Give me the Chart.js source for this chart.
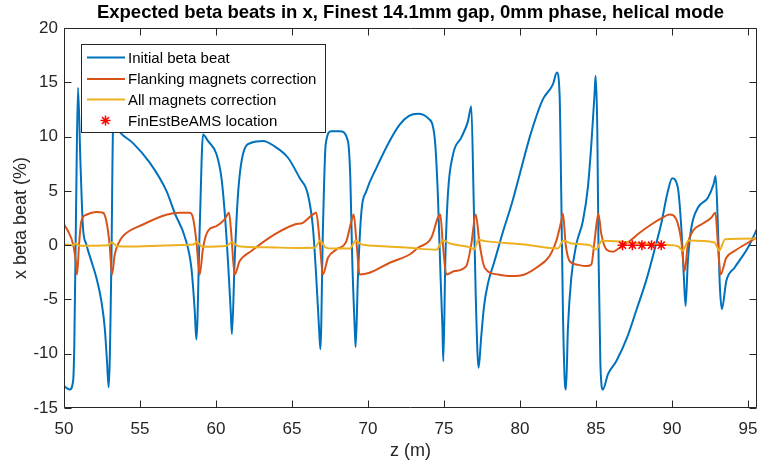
<!DOCTYPE html>
<html lang="en">
<head>
<meta charset="utf-8">
<title>Expected beta beats in x</title>
<script src="https://cdn.jsdelivr.net/npm/chart.js"></script>
<style>
  body { margin: 0; background: #fff; }
</style>
</head>
<body>
<canvas id="chart" width="758" height="466"></canvas>
<script>
// z positions (m) and beta beat (%)
var initialZ = [50.0, 50.37, 50.6, 50.68, 50.8, 50.92, 51.08, 51.25, 51.47, 51.8, 52.13, 52.46, 52.68, 52.83, 52.94,
  53.12, 53.23, 53.35, 53.55, 53.75, 54.54, 55.64, 56.74, 57.3, 57.94, 58.38, 58.6, 58.71, 58.93, 59.15,
  59.47, 60.03, 60.36, 60.57, 60.79, 60.97, 61.05, 61.23, 61.45, 61.78, 62.33, 63.1, 63.86, 64.74, 65.5,
  66.05, 66.38, 66.6, 66.78, 66.87, 67.04, 67.22, 67.59, 68.14, 68.68, 68.84, 68.97, 69.13, 69.19, 69.34,
  69.57, 69.9, 70.55, 71.43, 72.09, 72.7, 73.29, 73.95, 74.39, 74.6, 74.78, 74.9, 74.96, 75.09, 75.26,
  75.6, 76.14, 76.58, 76.8, 76.95, 77.09, 77.28, 77.45, 77.65, 77.9, 78.3, 78.9, 79.5, 80.0, 80.7,
  81.5, 82.17, 82.43, 82.61, 82.72, 82.83, 82.94, 83.03, 83.16, 83.38, 83.71, 84.14, 84.47, 84.7, 84.91,
  84.98, 85.09, 85.18, 85.29, 85.46, 85.79, 86.34, 87.08, 87.66, 88.32, 88.9, 89.3, 89.74, 90.02, 90.39,
  90.62, 90.79, 90.9, 91.05, 91.28, 91.71, 92.37, 92.74, 92.88, 93.03, 93.16, 93.29, 93.58, 94.12, 95.0,
  95.64];
var initialBeat = [-12.98, -13.3, -12.5, -9, 4, 14.5, 7.7, 1.6, 0.07, -1.47, -3.0, -5.15, -7.6, -10.7, -13.1,
  -1.47, 10.8, 11.2, 10.7, 10.3, 9.4, 7.6, 5.0, 2.9, 0.8, -2.08, -6.0, -8.7, 1.6, 10.2,
  9.6, 8.4, 6.2, 3.1, -1.47, -6.07, -8.2, -1.4, 4.7, 8.4, 9.43, 9.6, 9.1, 8.05, 6.2,
  4.67, 1.6, -3.0, -7.6, -9.6, 1.6, 9.3, 10.5, 10.5, 9.6, 6.2, -1.47, -7.6, -9.4, -3.0,
  3.1, 5.0, 7.1, 9.6, 11.1, 11.9, 12.1, 11.7, 9.9, 4.67, -3.0, -7.6, -10.7, -1.47, 4.67,
  8.36, 9.9, 11.4, 12.8, 4.67, -4.5, -11.3, -8.5, -5.5, -3.5, -1.6, 1.3, 4.0, 6.6, 10.2,
  13.4, 14.8, 15.9, 13.9, 4.67, -6.07, -12.2, -13.3, -7.6, -3.0, 0.07, 2.2, 5.3, 9.3, 13.9,
  15.6, 10.8, -1.47, -10.7, -13.3, -11.9, -10.7, -8.4, -6.0, -3.2, -0.2, 2.0, 5.0, 6.15, 5.3,
  1.6, -3.0, -5.6, -1.47, 1.6, 3.44, 4.37, 5.6, 6.36, 1.6, -3.9, -5.9, -3.3, -2.08, -0.24,
  1.6];

var flankZ = [50.0, 50.26, 50.6, 50.8, 50.86, 50.99, 51.14, 51.47, 52.13, 52.57, 52.79, 53.0, 53.16, 53.34, 53.55,
  53.88, 55.2, 56.74, 57.6, 58.27, 58.49, 58.71, 58.93, 59.15, 59.47, 60.03, 60.57, 60.86, 61.01, 61.23,
  61.56, 62.33, 63.86, 65.18, 65.72, 66.38, 66.6, 66.82, 67.04, 67.37, 67.92, 68.58, 68.91, 69.06, 69.24,
  69.45, 70.11, 71.43, 72.74, 73.29, 74.17, 74.6, 74.76, 74.93, 75.16, 75.7, 76.47, 76.8, 77.09, 77.35,
  77.68, 78.55, 79.43, 80.3, 81.08, 81.95, 82.39, 82.72, 82.83, 83.01, 83.27, 83.71, 84.37, 84.7, 84.91,
  85.16, 85.36, 85.69, 86.12, 86.56, 87.22, 87.88, 88.64, 89.3, 89.85, 90.29, 90.62, 90.84, 91.05, 91.38,
  91.93, 92.59, 92.86, 93.03, 93.2, 93.58, 94.12, 95.0, 95.64];
var flankBeat = [1.9, 1.3, 0.07, -1.8, -2.7, 0.07, 2.2, 2.8, 3.05, 2.98, 2.2, 0.07, -2.7, -0.86, 0.07,
  0.83, 1.9, 2.8, 2.98, 2.98, 2.5, 0.38, -2.7, -0.24, 1.3, 1.76, 2.37, 2.98, 0.99, -2.7,
  -1.47, -0.54, 0.99, 1.9, 2.06, 2.83, 2.98, 0.38, -2.7, -1.16, -0.4, 0.38, 2.2, 2.83, 0.38,
  -2.7, -2.54, -1.62, -0.86, -0.24, 0.68, 2.52, 2.83, 0.07, -2.7, -2.39, -1.93, 0.07, 2.83, 0.07,
  -2.08, -2.7, -2.85, -2.7, -2.08, -1.0, 0.38, 2.2, 2.9, 0.07, -1.47, -1.78, -1.93, -1.78, 0.38,
  2.9, 0.99, -0.4, -0.6, -0.24, 0.38, 1.14, 1.9, 2.46, 2.83, 2.37, 0.38, -2.39, 0.07, 1.3,
  1.9, 2.52, 2.98, 0.07, -2.7, -1.16, -0.54, 0.22, 0.75];

var allZ = [50.0, 50.6, 50.8, 51.0, 52.9, 53.15, 53.5, 54.5, 57.8, 58.5, 58.75, 59.1, 60.7, 61.05, 61.5,
  63.3, 65.5, 66.5, 66.85, 67.2, 67.7, 68.8, 69.2, 69.6, 71.0, 72.7, 74.5, 74.95, 75.4, 76.8,
  77.0, 77.25, 77.7, 80.3, 82.5, 82.85, 83.4, 84.6, 85.0, 85.4, 86.9, 89.3, 90.4, 90.7, 91.1,
  92.8, 93.12, 93.5, 95.64];
var allBeat = [0.05, 0.0, 0.15, -0.05, 0.0, 0.25, -0.1, -0.12, 0.02, 0.05, 0.3, -0.15, -0.05, 0.25, -0.1,
  -0.2, -0.26, -0.25, 0.4, -0.2, -0.32, -0.32, 0.4, 0.05, -0.1, -0.25, -0.42, 0.45, 0.15, -0.25,
  -0.4, 0.5, 0.37, 0.07, -0.3, 0.4, 0.15, 0.0, -0.4, 0.4, 0.3, 0.04, -0.1, -0.5, 0.43,
  0.25, -0.5, 0.55, 0.62];

var locationZ = [86.75, 87.4, 88.03, 88.66, 89.3];
var locationBeat = [0, 0, 0, 0, 0];

var xTicks = [50, 55, 60, 65, 70, 75, 80, 85, 90, 95];
var yTicks = [-15, -10, -5, 0, 5, 10, 15, 20];

var seriesNames = ['Initial beta beat', 'Flanking magnets correction', 'All magnets correction', 'FinEstBeAMS location'];
var seriesColors = ['#0072BD', '#D95319', '#EDB120', '#FF0000'];

function pts(xs, ys) {
  var out = [];
  for (var i = 0; i < xs.length; i++) out.push({x: xs[i], y: ys[i]});
  return out;
}

var FONT = '"Liberation Sans", Arial, Helvetica, sans-serif';
var AXIS = '#262626';

// MATLAB style box with inward ticks plus the legend box
var boxPlugin = {
  id: 'boxPlugin',
  afterDraw: function(chart) {
    var ctx = chart.ctx;
    var a = chart.chartArea;
    var xs = chart.scales.x, ys = chart.scales.y;
    var L = Math.round(a.left) + 0.5, R = Math.round(a.right) - 0.5;
    var T = Math.round(a.top) + 0.5, B = Math.round(a.bottom) - 0.5;
    ctx.save();
    ctx.strokeStyle = AXIS;
    ctx.lineWidth = 1;
    ctx.beginPath();
    ctx.rect(L, T, R - L, B - T);
    xTicks.forEach(function(t) {
      var px = Math.round(xs.getPixelForValue(t)) + 0.5;
      ctx.moveTo(px, B); ctx.lineTo(px, B - 7);
      ctx.moveTo(px, T); ctx.lineTo(px, T + 7);
    });
    yTicks.forEach(function(t) {
      var py = Math.round(ys.getPixelForValue(t)) + 0.5;
      ctx.moveTo(L, py); ctx.lineTo(L + 7, py);
      ctx.moveTo(R, py); ctx.lineTo(R - 7, py);
    });
    ctx.stroke();

    // legend
    var lx = 81.5, ly = 44.5, lw = 244, lh = 88;
    ctx.fillStyle = '#fff';
    ctx.fillRect(lx, ly, lw, lh);
    ctx.strokeStyle = AXIS;
    ctx.strokeRect(lx, ly, lw, lh);
    var rows = [57.5, 79, 99.5, 120.5];
    ctx.font = '15px ' + FONT;
    ctx.textBaseline = 'middle';
    for (var i = 0; i < 4; i++) {
      if (i < 3) {
        ctx.strokeStyle = seriesColors[i];
        ctx.lineWidth = 2;
        ctx.beginPath();
        ctx.moveTo(87, rows[i]); ctx.lineTo(125, rows[i]);
        ctx.stroke();
      } else {
        ctx.strokeStyle = seriesColors[3];
        ctx.lineWidth = 1.5;
        ctx.beginPath();
        var cx = 105.5, cy = rows[i], r = 5;
        for (var k = 0; k < 4; k++) {
          var ang = k * Math.PI / 4;
          ctx.moveTo(cx - r * Math.cos(ang), cy - r * Math.sin(ang));
          ctx.lineTo(cx + r * Math.cos(ang), cy + r * Math.sin(ang));
        }
        ctx.stroke();
      }
      ctx.fillStyle = '#000';
      ctx.fillText(seriesNames[i], 128, rows[i] + 1);
    }
    ctx.restore();
  }
};

var lineBase = {
  borderWidth: 2,
  pointRadius: 0,
  fill: false,
  cubicInterpolationMode: 'monotone'
};

new Chart(document.getElementById('chart'), {
  type: 'line',
  data: {
    datasets: [
      Object.assign({label: seriesNames[0], data: pts(initialZ, initialBeat), borderColor: seriesColors[0], order: 4}, lineBase),
      Object.assign({label: seriesNames[1], data: pts(flankZ, flankBeat), borderColor: seriesColors[1], order: 3}, lineBase),
      Object.assign({label: seriesNames[2], data: pts(allZ, allBeat), borderColor: seriesColors[2], order: 2}, lineBase),
      {
        label: seriesNames[3],
        data: pts(locationZ, locationBeat),
        showLine: false,
        pointStyle: 'star',
        pointRadius: 5,
        pointBorderWidth: 1.5,
        borderColor: seriesColors[3],
        backgroundColor: seriesColors[3],
        order: 1
      }
    ]
  },
  options: {
    responsive: false,
    animation: false,
    devicePixelRatio: 1,
    layout: { autoPadding: false, padding: { left: 0, right: 1, top: 0, bottom: 0 } },
    plugins: {
      legend: { display: false },
      tooltip: { enabled: false },
      title: {
        display: true,
        fullSize: false,
        text: 'Expected beta beats in x, Finest 14.1mm gap, 0mm phase, helical mode',
        color: '#000',
        font: { family: FONT, size: 18.5, weight: 'bold' },
        padding: { top: 2, bottom: 3.8 }
      }
    },
    scales: {
      x: {
        type: 'linear',
        min: 50,
        max: 95.6,
        grid: { display: false, drawTicks: false },
        border: { display: false },
        afterFit: function(s) { s.height = 58; s.paddingLeft = 0; s.paddingRight = 0; },
        afterBuildTicks: function(s) { s.ticks = xTicks.map(function(v) { return {value: v}; }); },
        ticks: { color: AXIS, font: { family: FONT, size: 17 }, padding: 11, maxRotation: 0, includeBounds: false },
        title: { display: true, text: 'z (m)', color: AXIS, font: { family: FONT, size: 18 }, padding: { top: 4, bottom: 4 } }
      },
      y: {
        min: -15,
        max: 20,
        grid: { display: false, drawTicks: false },
        border: { display: false },
        afterFit: function(s) { s.width = 64; },
        afterBuildTicks: function(s) { s.ticks = yTicks.map(function(v) { return {value: v}; }); },
        ticks: { color: AXIS, font: { family: FONT, size: 17 }, padding: 6 },
        title: { display: true, text: 'x beta beat (%)', color: AXIS, font: { family: FONT, size: 18 }, padding: { top: 10, bottom: 4 } }
      }
    }
  },
  plugins: [boxPlugin]
});
</script>
</body>
</html>
